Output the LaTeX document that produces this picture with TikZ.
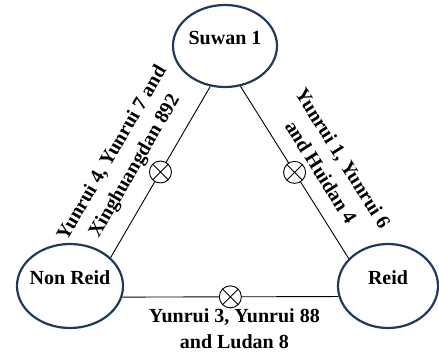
\documentclass[tikz,border=0pt]{standalone}
\usepackage{fontspec}
\setmainfont{Liberation Serif}
\usetikzlibrary{shapes.geometric}
\definecolor{navy}{HTML}{1F3A5C}
\begin{document}
\begin{tikzpicture}[x=1pt,y=1pt,
  ell/.style={ellipse, draw=navy, line width=2.2pt, inner sep=0pt,
    font=\fontsize{20}{26}\selectfont\bfseries, text height=13pt, text depth=16pt},
  conn/.style={draw=black, line width=0.9pt},
  xc/.style={circle, draw=black, line width=0.9pt, fill=white, minimum size=22pt, inner sep=0pt,
    path picture={\draw[line width=0.9pt] (path picture bounding box.north west)--(path picture bounding box.south east)
      (path picture bounding box.north east)--(path picture bounding box.south west);}},
  lab/.style={font=\fontsize{20}{26}\selectfont\bfseries, align=center, inner sep=0pt}]
\useasboundingbox (0,0) rectangle (439,-356);
\node[ell, minimum width=104pt, minimum height=82pt] (s) at (225,-46) {\makebox[0pt]{Suwan 1}};
\node[ell, minimum width=106pt, minimum height=84pt] (nr) at (70,-286) {\makebox[0pt]{Non Reid}};
\node[ell, minimum width=100pt, minimum height=84pt] (r) at (388,-286) {\makebox[0pt]{Reid}};
\draw[conn] (nr.35) -- node[xc] (x1) {}
  node[lab, sloped, above=15pt, xshift=-8pt] (l1) {Yunrui 4, Yunrui 7 and\\Xinghuangdan 892} (s.250);
\draw[conn] (s.291) -- node[xc] (x2) {}
  node[lab, sloped, above=15pt, xshift=14pt] (l2) {Yunrui 1, Yunrui 6\\and Huidan 4} (r.145);
\draw[conn] (nr.-12) -- node[xc] (x3) {}
  node[lab, below=11pt, xshift=4pt] (l3) {Yunrui 3, Yunrui 88\\and Ludan 8} (r.192);
\end{tikzpicture}
\end{document}
